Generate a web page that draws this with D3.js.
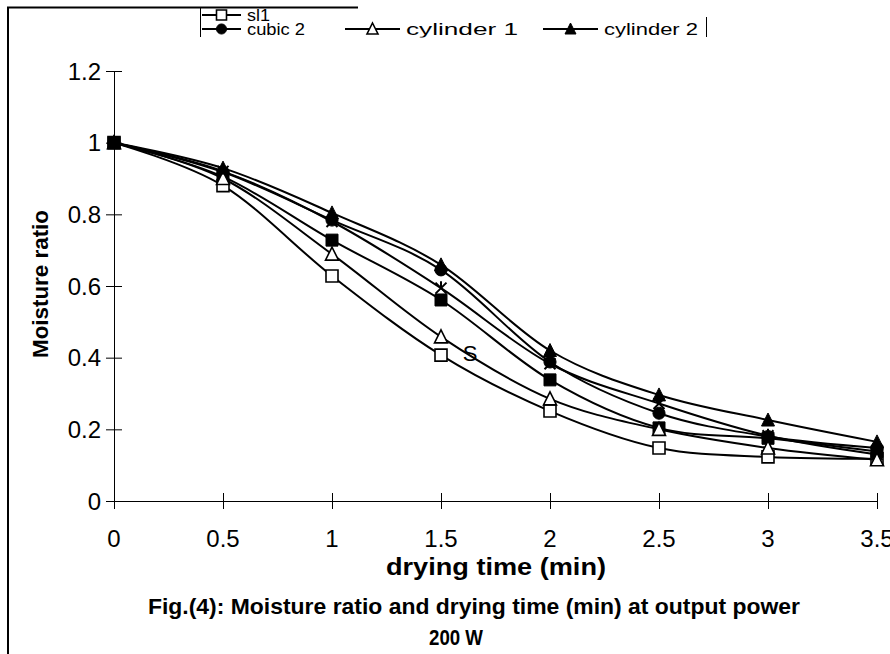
<!DOCTYPE html>
<html>
<head>
<meta charset="utf-8">
<script src="https://cdn.jsdelivr.net/npm/d3@7"></script>
<style>
  body { margin: 0; background: #fff; }
  svg { display: block; }
  text { font-family: "Liberation Sans", Arial, sans-serif; fill: #000; }
</style>
</head>
<body>
<div id="chart"></div>
<script>
const width = 890
const height = 654

// drying time (min)
const times = [0, 0.5, 1, 1.5, 2, 2.5, 3, 3.5]

// moisture ratio per sample shape
const sl1 = [1, 0.88, 0.628, 0.407, 0.251, 0.148, 0.123, 0.118]
const sl2 = [1, 0.905, 0.728, 0.561, 0.338, 0.204, 0.175, 0.138]
const cubic1 = [1, 0.92, 0.78, 0.594, 0.383, 0.272, 0.182, 0.13]
const cubic2 = [1, 0.918, 0.784, 0.645, 0.388, 0.245, 0.18, 0.148]
const cylinder1 = [1, 0.9, 0.689, 0.458, 0.285, 0.2, 0.148, 0.115]
const cylinder2 = [1, 0.929, 0.804, 0.659, 0.42, 0.296, 0.226, 0.165]

const xTicks = [0, 0.5, 1, 1.5, 2, 2.5, 3, 3.5]
const yTicks = [0, 0.2, 0.4, 0.6, 0.8, 1, 1.2]

// series, drawn in this order (last on top)
const series = [
  { name: "sl1", values: sl1, marker: "square", filled: false },
  { name: "sl2", values: sl2, marker: "square", filled: true },
  { name: "cubic 1", values: cubic1, marker: "star", filled: false },
  { name: "cubic 2", values: cubic2, marker: "circle", filled: true },
  { name: "cylinder 1", values: cylinder1, marker: "triangle", filled: false },
  { name: "cylinder 2", values: cylinder2, marker: "triangle", filled: true }
]

// only these entries are visible in the (clipped) legend
const legendNames = ["sl1", "cubic 2", "cylinder 1", "cylinder 2"]

const svg = d3.select("#chart").append("svg")
  .attr("width", width)
  .attr("height", height)

const x = d3.scaleLinear().domain([0, 3.5]).range([114, 877])
const y = d3.scaleLinear().domain([0, 1.2]).range([501, 71])

// outer frame fragments
svg.append("line").attr("x1", 8).attr("y1", 7.5).attr("x2", 8).attr("y2", height)
  .attr("stroke", "#000").attr("stroke-width", 2)
svg.append("line").attr("x1", 7).attr("y1", 7.5).attr("x2", 358).attr("y2", 7.5)
  .attr("stroke", "#000").attr("stroke-width", 2)

// y axis
const yAxis = svg.append("g")
  .attr("transform", "translate(" + x(0) + ",0)")
  .call(d3.axisLeft(y).tickValues(yTicks).tickSizeInner(8).tickSizeOuter(0).tickFormat(""))
yAxis.selectAll(".tick line").attr("x1", 8)
yAxis.select(".domain").attr("stroke", "#000")

// x axis
const xAxis = svg.append("g")
  .attr("transform", "translate(0," + y(0) + ")")
  .call(d3.axisBottom(x).tickValues(xTicks).tickSizeInner(8).tickSizeOuter(0).tickFormat(""))
xAxis.selectAll(".tick line").attr("y1", -8)
xAxis.select(".domain").attr("stroke", "#000")

function label(g, tx, ty, str, opts) {
  opts = opts || {}
  const t = g.append("text")
    .attr("x", tx)
    .attr("y", ty)
    .attr("text-anchor", opts.anchor || "middle")
    .attr("dominant-baseline", "central")
    .attr("font-size", opts.size || 24)
    .attr("font-weight", opts.bold ? "bold" : "normal")
    .text(str)
  if (opts.len) t.attr("textLength", opts.len).attr("lengthAdjust", "spacingAndGlyphs")
  return t
}

yTicks.forEach(function(v) {
  label(svg, 101, y(v), String(+v.toFixed(1)), { anchor: "end", size: 24 })
})
xTicks.forEach(function(v) {
  label(svg, x(v), 538, String(+v.toFixed(1)), { size: 24 })
})

// axis titles
label(svg, 496, 566, "drying time (min)", { bold: true, size: 24, len: 220 })
svg.append("text")
  .attr("transform", "translate(40,284) rotate(-90)")
  .attr("text-anchor", "middle")
  .attr("dominant-baseline", "central")
  .attr("font-size", 22)
  .attr("font-weight", "bold")
  .attr("textLength", 148)
  .attr("lengthAdjust", "spacingAndGlyphs")
  .text("Moisture ratio")

// figure caption
label(svg, 474, 606, "Fig.(4): Moisture ratio and drying time (min) at output power", { bold: true, size: 22, len: 652 })
label(svg, 456, 637, "200 W", { bold: true, size: 22, len: 54 })

// smoothed lines
const line = d3.line()
  .x(function(d) { return x(d[0]) })
  .y(function(d) { return y(d[1]) })
  .curve(d3.curveCardinal.tension(0))

function markerPath(type, s) {
  if (type === "square") return "M" + (-s) + "," + (-s) + "h" + (2 * s) + "v" + (2 * s) + "h" + (-2 * s) + "Z"
  if (type === "triangle") return "M0," + (-s - 1) + "L" + (s + 0.5) + "," + s + "L" + (-s - 0.5) + "," + s + "Z"
  if (type === "star") return "M-5.5,-5.5L5.5,5.5M5.5,-5.5L-5.5,5.5M0,0V-7"
  return d3.symbol().type(d3.symbolCircle).size(s * s * 3.2)()
}

function drawMarker(g, d, tx, ty, s) {
  return g.append("path")
    .attr("d", markerPath(d.marker, s || 6))
    .attr("transform", "translate(" + tx + "," + ty + ")")
    .attr("stroke", "#000")
    .attr("stroke-width", d.marker === "star" ? 2 : (d.filled ? 1 : 1.6))
    .attr("fill", d.marker === "star" ? "none" : (d.filled ? "#000" : "#fff"))
}

series.forEach(function(s) {
  const pts = times.map(function(t, i) { return [t, s.values[i]] })
  const g = svg.append("g")
  g.append("path")
    .attr("d", line(pts))
    .attr("fill", "none")
    .attr("stroke", "#000")
    .attr("stroke-width", 2)
  pts.forEach(function(p) { drawMarker(g, s, x(p[0]), y(p[1])) })
})

// stray label in the plot
label(svg, 470, 353, "S", { size: 22 })

// legend (its lower part is clipped in the original)
const legendPos = {
  "sl1": [202, 15, 23],
  "cubic 2": [202, 29, 58],
  "cylinder 1": [345, 29, 112],
  "cylinder 2": [543, 29, 94]
}
svg.append("line").attr("x1", 200.5).attr("y1", 7).attr("x2", 200.5).attr("y2", 37)
  .attr("stroke", "#000").attr("stroke-width", 1)
svg.append("line").attr("x1", 706.5).attr("y1", 17).attr("x2", 706.5).attr("y2", 37)
  .attr("stroke", "#000").attr("stroke-width", 1)
svg.append("clipPath").attr("id", "legclip")
  .append("rect").attr("x", 190).attr("y", 8.5).attr("width", 520).attr("height", 29)
const legend = svg.append("g").attr("clip-path", "url(#legclip)")
legendNames.forEach(function(n) {
  const s = series.find(function(d) { return d.name === n })
  const p = legendPos[n]
  const lineLen = n === "sl1" || n === "cubic 2" ? 39 : 55
  const g = legend.append("g")
  g.append("line").attr("x1", p[0]).attr("x2", p[0] + lineLen).attr("y1", p[1]).attr("y2", p[1])
    .attr("stroke", "#000").attr("stroke-width", 2)
  drawMarker(g, s, p[0] + lineLen / 2, p[1], 5)
  label(g, p[0] + lineLen + 6, p[1], n, { anchor: "start", size: 16, len: p[2] })
})
</script>
</body>
</html>
